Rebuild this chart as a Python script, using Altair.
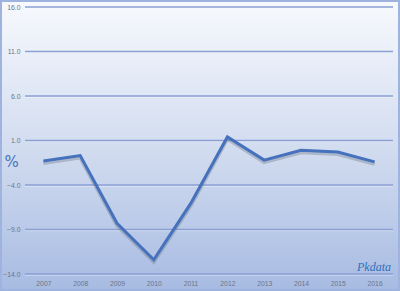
import altair as alt
import pandas as pd

years = ["2007", "2008", "2009", "2010", "2011", "2012", "2013", "2014", "2015", "2016"]
values = [-1.3, -0.7, -8.3, -12.4, -6.1, 1.4, -1.2, -0.1, -0.3, -1.4]
y_ticks = [-14, -9, -4, 1, 6, 11, 16]

df = pd.DataFrame({"year": years, "value": values})
grid_df = pd.DataFrame({"tick": y_ticks})
bg_df = pd.DataFrame({"k": [0]})

W, H = 368, 267

y_scale = alt.Scale(domain=[-14, 16], nice=False, zero=False)
y_axis = alt.Axis(values=y_ticks, format=".1f", labelFontSize=6.8, labelColor="#6e7585",
                  labelFont="Liberation Sans", ticks=False, domain=False, labelPadding=5,
                  grid=False, zindex=1,
                  title="%", titleAngle=0, titleX=-14, titleY=154, titleFontSize=15,
                  titleFontWeight="normal", titleColor="#4571bd", titleFont="DejaVu Sans",
                  titleAlign="center", titleBaseline="middle")

bg = alt.Chart(bg_df).mark_rect(
    color=alt.LinearGradient(
        gradient="linear", x1=0, y1=0, x2=0, y2=1,
        stops=[alt.GradientStop(offset=0, color="#f7f9fd"),
               alt.GradientStop(offset=0.5, color="#d3ddf0"),
               alt.GradientStop(offset=1, color="#a7bbe2")]),
    stroke="#9fb3df", strokeWidth=2
).encode(x=alt.value(-24), x2=alt.value(W + 6), y=alt.value(-6), y2=alt.value(H + 16))

grid_hi = alt.Chart(grid_df).transform_calculate(t2="datum.tick - 0.13").mark_rule(
    color="#ffffff", strokeWidth=1, opacity=0.5
).encode(y=alt.Y("t2:Q", scale=y_scale, axis=y_axis), x=alt.value(0), x2=alt.value(W))

grid = alt.Chart(grid_df).mark_rule(color="#8a9fd4", strokeWidth=1.3).encode(
    y=alt.Y("tick:Q", scale=y_scale, axis=y_axis), x=alt.value(0), x2=alt.value(W))

x_enc = alt.X("year:O", sort=years, title=None,
              scale=alt.Scale(type="point", padding=0.5),
              axis=alt.Axis(labelAngle=0, labelFontSize=6.8, labelColor="#6e7585",
                            ticks=False, domain=False, labelPadding=6, labelFont="Liberation Sans",
                            zindex=1))

shadow = alt.Chart(df).transform_calculate(sv="datum.value - 0.22").mark_line(
    color="#5a6270", strokeWidth=4, opacity=0.3, strokeJoin="miter"
).encode(x=x_enc, y=alt.Y("sv:Q", scale=y_scale, axis=y_axis))

line = alt.Chart(df).mark_line(color="#4571bd", strokeWidth=3, strokeJoin="miter").encode(
    x=x_enc, y=alt.Y("value:Q", scale=y_scale, axis=y_axis))

mark = alt.Chart(bg_df).mark_text(text="Pkdata", font="Liberation Serif", fontStyle="italic",
                                  fontSize=12, color="#2f6fbb", align="right", baseline="alphabetic").encode(
    x=alt.value(W - 2), y=alt.value(H - 3))

chart = alt.layer(bg, grid_hi, grid, shadow, line, mark).properties(
    width=W, height=H,
    padding={"left": 25, "top": 7, "right": 7, "bottom": 17},
    autosize=alt.AutoSizeParams(type="none"),
    background="white"
).configure_view(stroke=None)

chart.save("out.html", embed_options={"renderer": "svg", "actions": False})
